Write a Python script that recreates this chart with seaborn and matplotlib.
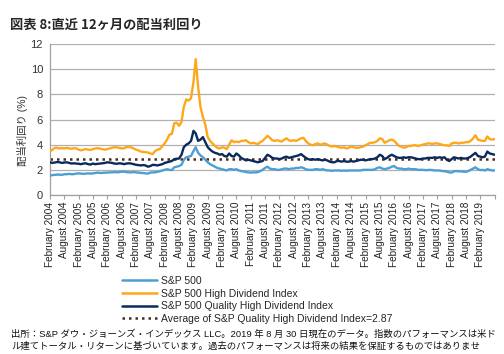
import matplotlib
matplotlib.use("Agg")
import matplotlib.pyplot as plt
import seaborn as sns
import numpy as np
import pandas as pd

# === Data (monthly, Feb 2004 - Aug 2019) ===
sp500 = [
    1.55, 1.58, 1.60, 1.62, 1.62, 1.60, 1.65, 1.65, 1.68, 1.65, 1.66,          # 2004 Feb-Dec
    1.70, 1.72, 1.70, 1.68, 1.70, 1.72, 1.70, 1.72, 1.75, 1.78, 1.75, 1.76,    # 2005
    1.78, 1.78, 1.80, 1.80, 1.82, 1.80, 1.82, 1.85, 1.85, 1.82, 1.80, 1.80,    # 2006
    1.82, 1.80, 1.78, 1.76, 1.75, 1.72, 1.70, 1.78, 1.80, 1.80, 1.85, 1.88,    # 2007
    1.95, 2.00, 2.05, 2.00, 1.98, 2.20, 2.25, 2.30, 2.40, 2.80, 3.00, 3.05,    # 2008
    3.10, 3.50, 3.80, 3.35, 3.15, 3.00, 2.80, 2.60, 2.45, 2.35, 2.25, 2.15,    # 2009
    2.10, 2.05, 2.00, 1.95, 2.05, 2.05, 2.00, 2.05, 1.95, 1.90, 1.88, 1.82,    # 2010
    1.80, 1.78, 1.80, 1.80, 1.82, 1.90, 2.00, 2.15, 2.25, 2.10, 2.05, 2.05,    # 2011
    2.00, 2.00, 2.05, 2.10, 2.10, 2.05, 2.10, 2.10, 2.15, 2.15, 2.20, 2.15,    # 2012
    2.05, 2.00, 2.00, 2.00, 2.05, 2.05, 2.00, 2.05, 2.00, 1.95, 1.95, 1.92,    # 2013
    1.95, 1.95, 1.95, 1.92, 1.95, 1.92, 1.95, 1.95, 1.95, 1.95, 1.95, 1.95,    # 2014
    2.00, 2.00, 2.00, 2.00, 2.00, 2.05, 2.15, 2.20, 2.10, 2.05, 2.10, 2.15,    # 2015
    2.25, 2.30, 2.15, 2.10, 2.10, 2.05, 2.05, 2.10, 2.05, 2.05, 2.05, 2.00,    # 2016
    2.00, 2.00, 1.98, 1.98, 2.00, 1.98, 1.95, 1.95, 1.95, 1.90, 1.90, 1.85,    # 2017
    1.80, 1.78, 1.88, 1.90, 1.88, 1.88, 1.85, 1.85, 1.90, 2.00, 2.10, 2.20,    # 2018
    2.05, 1.98, 2.00, 1.95, 2.05, 2.00, 1.95, 1.95,                            # 2019 Jan-Aug
]
high_div = [
    3.45, 3.60, 3.75, 3.75, 3.70, 3.72, 3.70, 3.75, 3.70, 3.68, 3.72,
    3.70, 3.60, 3.55, 3.60, 3.65, 3.60, 3.58, 3.65, 3.70, 3.72, 3.68, 3.65,
    3.60, 3.65, 3.70, 3.75, 3.80, 3.78, 3.75, 3.70, 3.72, 3.80, 3.82, 3.78,
    3.70, 3.60, 3.55, 3.45, 3.42, 3.40, 3.38, 3.30, 3.25, 3.50, 3.60, 3.65,
    3.90, 4.10, 4.40, 4.80, 4.85, 5.70, 5.75, 5.50, 5.80, 7.00, 7.60, 7.50,
    7.70, 9.00, 10.80, 8.60, 7.00, 6.20, 5.60, 4.60, 4.30, 4.10, 3.90, 3.75,
    3.70, 3.80, 3.75, 3.65, 4.00, 4.35, 4.20, 4.25, 4.20, 4.30, 4.30, 4.35,
    4.20, 4.10, 4.15, 4.10, 4.05, 4.20, 4.30, 4.50, 4.70, 4.55, 4.35, 4.30,
    4.35, 4.30, 4.25, 4.40, 4.50, 4.35, 4.30, 4.35, 4.30, 4.40, 4.50, 4.55,
    4.30, 4.10, 4.00, 3.95, 4.05, 4.10, 4.00, 4.05, 4.10, 4.00, 3.90, 3.85,
    3.90, 3.85, 3.80, 3.75, 3.80, 3.70, 3.75, 3.85, 3.80, 3.75, 3.75, 3.80,
    3.85, 3.95, 4.05, 4.15, 4.15, 4.20, 4.30, 4.50, 4.45, 4.15, 4.25, 4.35,
    4.40, 4.30, 4.10, 3.90, 3.85, 3.75, 3.80, 3.90, 3.90, 3.95, 3.95, 3.90,
    3.95, 4.00, 4.05, 4.10, 4.10, 4.05, 4.10, 4.10, 4.05, 4.00, 3.95, 3.95,
    3.90, 4.10, 4.15, 4.15, 4.10, 4.15, 4.15, 4.20, 4.20, 4.30, 4.50, 4.75,
    4.40, 4.35, 4.30, 4.30, 4.65, 4.45, 4.40, 4.45,
]
quality_hd = [
    2.60, 2.55, 2.58, 2.62, 2.60, 2.55, 2.58, 2.60, 2.55, 2.50, 2.52,
    2.50, 2.48, 2.45, 2.50, 2.52, 2.45, 2.42, 2.50, 2.45, 2.48, 2.50, 2.52,
    2.55, 2.60, 2.58, 2.55, 2.50, 2.48, 2.52, 2.50, 2.45, 2.50, 2.52, 2.50,
    2.45, 2.40, 2.38, 2.35, 2.38, 2.35, 2.25, 2.30, 2.40, 2.38, 2.35, 2.40,
    2.45, 2.55, 2.60, 2.65, 2.70, 2.85, 2.88, 2.90, 3.20, 3.80, 4.00, 4.10,
    4.30, 5.10, 4.90, 4.30, 4.40, 4.60, 4.20, 3.80, 3.60, 3.45, 3.35, 3.30,
    3.20, 3.25, 3.10, 3.05, 3.30, 3.10, 3.05, 3.30, 3.15, 2.95, 2.85, 2.75,
    2.80, 2.75, 2.70, 2.65, 2.60, 2.65, 2.70, 2.95, 3.20, 3.10, 2.95, 2.90,
    2.90, 2.85, 2.90, 3.00, 3.05, 2.95, 3.00, 3.05, 3.10, 3.15, 3.25, 3.10,
    2.95, 2.85, 2.80, 2.85, 2.80, 2.85, 2.80, 2.75, 2.80, 2.75, 2.65, 2.60,
    2.60, 2.70, 2.70, 2.65, 2.70, 2.65, 2.65, 2.70, 2.65, 2.70, 2.75, 2.80,
    2.80, 2.75, 2.80, 2.85, 2.85, 2.90, 3.00, 3.20, 3.10, 2.85, 2.95, 3.10,
    3.20, 3.10, 3.00, 2.95, 2.95, 3.00, 2.95, 3.00, 3.00, 2.95, 2.90, 2.85,
    2.85, 2.90, 2.90, 2.95, 2.95, 2.95, 3.00, 2.95, 3.00, 2.95, 3.00, 2.80,
    2.70, 2.85, 3.00, 2.95, 2.90, 2.95, 2.90, 2.90, 2.95, 3.05, 3.20, 3.35,
    3.10, 3.05, 3.00, 3.05, 3.45, 3.30, 3.25, 3.20,
]
qhd_average = 2.87

series_names = ["S&P 500", "S&P 500 High Dividend Index", "S&P 500 Quality High Dividend Index"]
series_colors = ["#4C9ED3", "#FFA71A", "#0A2A5E"]
avg_label = f"Average of S&P Quality High Dividend Index={qhd_average}"

dates = pd.date_range("2004-02-01", "2019-08-01", freq="MS")
df = pd.DataFrame({"date": dates, series_names[0]: sp500,
                   series_names[1]: high_div, series_names[2]: quality_hd})
long_df = df.melt(id_vars="date", var_name="series", value_name="yield")

tick_dates = pd.date_range("2004-02-01", "2019-08-01", freq="6MS")
tick_labels = [d.strftime("%B %Y") for d in tick_dates[:-1]] + [""]

title = "図表 8:直近 12ヶ月の配当利回り"
ylabel = "配当利回り (%)"
footer = ("出所：S&P ダウ・ジョーンズ・インデックス LLC。2019 年 8 月 30 日現在のデータ。指数のパフォーマンスは米ド\n"
          "ル建てトータル・リターンに基づいています。過去のパフォーマンスは将来の結果を保証するものではありませ")

# === Style ===
sns.set_style("white")
plt.rcParams["font.family"] = ["Liberation Sans", "Noto Sans CJK JP", "DejaVu Sans"]

fig = plt.figure(figsize=(5.04, 3.54), dpi=100)
ax = fig.add_axes([50 / 504, 1 - 195 / 354, 445 / 504, 151 / 354])

ax.axhline(qhd_average, color="#4A2A1C", linestyle=(0, (1, 1.6)), linewidth=1.8, zorder=1)
sns.lineplot(data=long_df, x="date", y="yield", hue="series", hue_order=series_names,
             palette=series_colors, linewidth=1.7, ax=ax, legend=False, zorder=3)

# Axes
ax.set_ylim(0, 12)
ax.set_yticks(np.arange(0, 13, 2))
ax.set_xlim(dates[0], dates[-1] + pd.Timedelta(days=6))
ax.set_xticks(tick_dates)
ax.set_xticklabels(tick_labels, rotation=90, fontsize=7.2, color="#222222")
ax.tick_params(axis="y", labelsize=8, colors="#333333", length=0, pad=5)
ax.tick_params(axis="x", length=3, width=0.8, color="#A0A0A0", pad=2, bottom=True)
ax.grid(axis="y", color="#B0B0B0", linewidth=0.9)
ax.grid(axis="x", visible=False)
for side in ["top", "right"]:
    ax.spines[side].set_visible(False)
for side in ["left", "bottom"]:
    ax.spines[side].set_color("#A0A0A0")
    ax.spines[side].set_linewidth(0.9)
ax.set_xlabel("")
ax.set_ylabel(ylabel, fontsize=7.5, color="#333333")
ax.yaxis.set_label_coords(-0.05, 0.43)

# Legend
handles = [plt.Line2D([], [], color=c, linewidth=1.8) for c in series_colors]
handles.append(plt.Line2D([], [], color="#4A2A1C", linestyle=(0, (1, 1.6)), linewidth=1.8))
fig.legend(handles, series_names + [avg_label], loc="upper left",
           bbox_to_anchor=(122 / 504, 1 - 276 / 354), frameon=False, fontsize=7.5,
           handlelength=3.4, handletextpad=0.35, labelspacing=0.25, borderpad=0, borderaxespad=0)

fig.text(10 / 504, 1 - 25 / 354, title, fontsize=9.5, fontweight="bold",
         family=["Noto Sans CJK JP"], ha="left", va="center")
fig.text(11 / 504, 1 - 329 / 354, footer, fontsize=6.75, ha="left", va="top", linespacing=1.45,
         color="#111111")

fig.savefig("out.png", dpi=100)
